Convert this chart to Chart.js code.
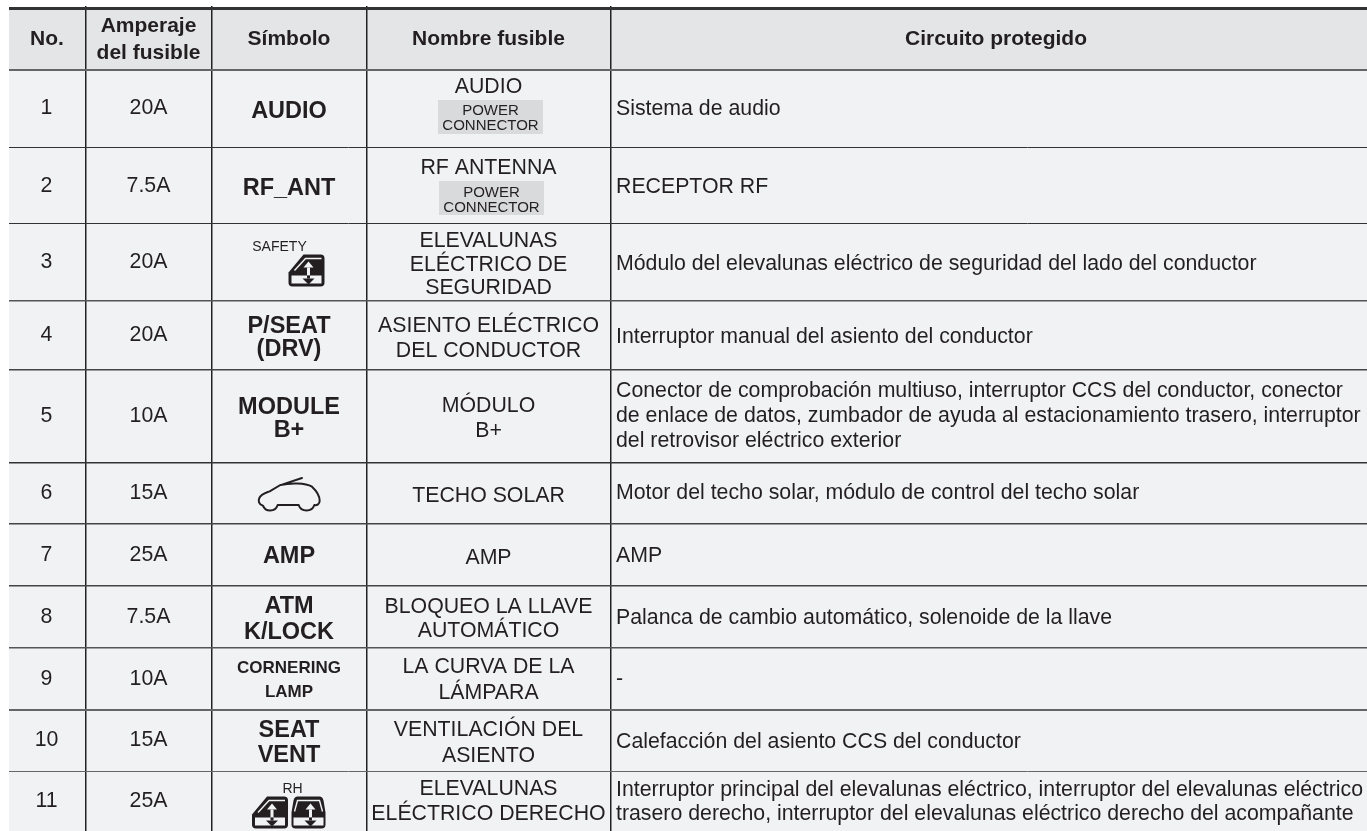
<!DOCTYPE html>
<html>
<head>
<meta charset="utf-8">
<script src="https://cdn.jsdelivr.net/npm/chart.js@4"></script>
<style>
  html, body { margin: 0; padding: 0; background: #fff; }
  canvas { display: block; }
</style>
</head>
<body>
<canvas id="fuse-table" width="1367" height="831"></canvas>
<script>
const headerLabels = [["No."], ["Amperaje", "del fusible"], ["Símbolo"], ["Nombre fusible"], ["Circuito protegido"]];
const fuseNumbers = ["1", "2", "3", "4", "5", "6", "7", "8", "9", "10", "11"];
const fuseAmps = ["20A", "7.5A", "20A", "20A", "10A", "15A", "25A", "7.5A", "10A", "15A", "25A"];
const fuseSymbols = [["AUDIO"], ["RF_ANT"], ["SAFETY"], ["P/SEAT", "(DRV)"], ["MODULE", "B+"], [], ["AMP"], ["ATM", "K/LOCK"], ["CORNERING", "LAMP"], ["SEAT", "VENT"], ["RH"]];
const fuseNames = [
  ["AUDIO"], ["RF ANTENNA"], ["ELEVALUNAS", "ELÉCTRICO DE", "SEGURIDAD"], ["ASIENTO ELÉCTRICO", "DEL CONDUCTOR"],
  ["MÓDULO", "B+"], ["TECHO SOLAR"], ["AMP"], ["BLOQUEO LA LLAVE", "AUTOMÁTICO"], ["LA CURVA DE LA", "LÁMPARA"],
  ["VENTILACIÓN DEL", "ASIENTO"], ["ELEVALUNAS", "ELÉCTRICO DERECHO"],
];
const powerTags = [["POWER", "CONNECTOR"], ["POWER", "CONNECTOR"]];
const fuseCircuits = [
  ["Sistema de audio"], ["RECEPTOR RF"], ["Módulo del elevalunas eléctrico de seguridad del lado del conductor"],
  ["Interruptor manual del asiento del conductor"],
  ["Conector de comprobación multiuso, interruptor CCS del conductor, conector", "de enlace de datos, zumbador de ayuda al estacionamiento trasero, interruptor", "del retrovisor eléctrico exterior"],
  ["Motor del techo solar, módulo de control del techo solar"], ["AMP"],
  ["Palanca de cambio automático, solenoide de la llave"], ["-"], ["Calefacción del asiento CCS del conductor"],
  ["Interruptor principal del elevalunas eléctrico, interruptor del elevalunas eléctrico", "trasero derecho, interruptor del elevalunas eléctrico derecho del acompañante"],
];

// table layout (scale values equal page pixels)
const columnEdges = [86, 212, 367, 611];
const rowEdges = [8, 70, 147, 224, 301, 370, 463, 524, 586, 648, 710, 771];
const rowLineWidths = [3, 2, 1, 1, 1.5, 1.5, 1.5, 1.5, 1.5, 1.5, 2, 1];
const rowLineColors = ["#333", "#666", "#333", "#333", "#555", "#444", "#333", "#444", "#444", "#555", "#666", "#666"];
const columnCenters = [47, 148.5, 289, 488.5];
const circuitLeft = 616;
const headerBaselines = [[45], [32, 59], [45], [45], [45]];
const amountBaselines = [114, 192, 268, 341, 422, 499, 561, 623, 685, 746, 807];
const symbolBaselines = [[118], [195], [251], [333, 356], [414, 437], [], [563], [613, 639], [673, 697], [737, 762], [793]];
const nameBaselines = [[93], [174], [247, 271, 294], [332, 357], [412, 437], [502], [564], [613, 637], [673, 699], [736, 762], [795, 820]];
const tagBaselines = [[115, 130], [197, 212]];
const circuitBaselines = [[114.5], [192.5], [269.5], [342.5], [397, 422, 447], [499], [561.5], [623.5], [685], [747.5], [795.5, 820]];
const iconPoints = [
  { x: 306.5, y: 270.5, icon: "frontWindow" },
  { x: 289, y: 494, icon: "car" },
  { x: 270, y: 812.5, icon: "frontWindow" },
  { x: 308.5, y: 812.5, icon: "rearWindow" },
];

const FONT = '"Liberation Sans", Arial, sans-serif';
const BODY_FONT = "21.3px " + FONT;
const textPoints = [];

function addLines(lines, baselines, x, font, align) {
  lines.forEach((text, i) => textPoints.push({ x, y: baselines[i], text, font, align: align || "center" }));
}

function symbolFont(text) {
  if (text === "SAFETY" || text === "RH") return "14px " + FONT;
  if (text === "CORNERING" || text === "LAMP") return "bold 17px " + FONT;
  return "bold 23.5px " + FONT;
}

headerLabels.forEach((lines, i) => {
  const x = i < 4 ? columnCenters[i] : 996;
  addLines(lines, headerBaselines[i], x, "bold 21px " + FONT);
});
fuseNumbers.forEach((n, i) => {
  addLines([n], [amountBaselines[i]], columnCenters[0] - 0.5, BODY_FONT);
  addLines([fuseAmps[i]], [amountBaselines[i]], columnCenters[1], BODY_FONT);
  fuseSymbols[i].forEach((text, j) => {
    let x = columnCenters[2];
    if (text === "SAFETY") x = 279.5;
    if (text === "RH") x = 292.5;
    addLines([text], [symbolBaselines[i][j]], x, symbolFont(text));
  });
  addLines(fuseNames[i], nameBaselines[i], columnCenters[3], BODY_FONT);
  addLines(fuseCircuits[i], circuitBaselines[i], circuitLeft, BODY_FONT, "left");
});
powerTags.forEach((lines, i) => addLines(lines, tagBaselines[i], columnCenters[3] + 2 + i, "15px " + FONT));

function windowOutline(ctx, rear) {
  ctx.beginPath();
  if (rear) {
    ctx.moveTo(-11, -16);
    ctx.lineTo(11, -16);
    ctx.quadraticCurveTo(14, -16, 15, -12);
    ctx.lineTo(17, 0);
    ctx.lineTo(17, 12);
    ctx.quadraticCurveTo(17, 16, 13, 16);
    ctx.lineTo(-13, 16);
    ctx.quadraticCurveTo(-17, 16, -17, 12);
    ctx.lineTo(-17, 0);
    ctx.lineTo(-15, -12);
    ctx.quadraticCurveTo(-14, -16, -11, -16);
  } else {
    ctx.moveTo(-3, -16);
    ctx.lineTo(14, -16);
    ctx.quadraticCurveTo(18, -16, 18, -12);
    ctx.lineTo(18, 12);
    ctx.quadraticCurveTo(18, 16, 14, 16);
    ctx.lineTo(-14, 16);
    ctx.quadraticCurveTo(-18, 16, -18, 12);
    ctx.lineTo(-18, 2);
    ctx.closePath();
  }
  ctx.fill();
}

function drawWindow(ctx, rear) {
  ctx.fillStyle = "#231f20";
  windowOutline(ctx, rear);
  ctx.fillStyle = "#f1f2f4";
  ctx.fillRect(-15, 5, 30, 8);
  ctx.strokeStyle = "#f1f2f4";
  ctx.lineWidth = 1.4;
  ctx.beginPath();
  if (rear) {
    ctx.moveTo(-14, -1);
    ctx.lineTo(-11, -12);
    ctx.lineTo(11, -12);
    ctx.lineTo(14, -1);
  } else {
    ctx.moveTo(-12, 0);
    ctx.lineTo(-1, -12);
    ctx.lineTo(15, -12);
  }
  ctx.stroke();
  // up arrow white, down arrow dark
  ctx.beginPath();
  ctx.moveTo(2, -9);
  ctx.lineTo(7, -3);
  ctx.lineTo(-3, -3);
  ctx.closePath();
  ctx.fill();
  ctx.fillRect(0.5, -3, 3, 8);
  ctx.fillStyle = "#231f20";
  ctx.fillRect(0.5, 5, 3, 3);
  ctx.beginPath();
  ctx.moveTo(-4, 8);
  ctx.lineTo(8, 8);
  ctx.lineTo(2, 14);
  ctx.closePath();
  ctx.fill();
}

function drawCar(ctx) {
  ctx.strokeStyle = "#231f20";
  ctx.lineWidth = 6;
  ctx.lineJoin = "round";
  ctx.lineCap = "round";
  ctx.scale(1 / 3, 1 / 3);
  ctx.translate(-296, -100);
  ctx.beginPath();
  ctx.moveTo(218, 135);
  ctx.bezierCurveTo(205, 132, 203, 120, 207, 112);
  ctx.bezierCurveTo(212, 100, 225, 97, 238, 92);
  ctx.lineTo(270, 73);
  ctx.bezierCurveTo(300, 66, 345, 66, 365, 78);
  ctx.bezierCurveTo(380, 92, 388, 108, 388, 120);
  ctx.bezierCurveTo(388, 130, 380, 135, 372, 133);
  ctx.bezierCurveTo(365, 155, 332, 155, 325, 133);
  ctx.lineTo(262, 133);
  ctx.bezierCurveTo(255, 155, 225, 155, 218, 135);
  ctx.moveTo(275, 72);
  ctx.lineTo(335, 52);
  ctx.stroke();
}

const tablePlugin = {
  id: "fuseTable",
  beforeDraw(chart) {
    const { ctx, scales } = chart;
    const { x, y } = scales;
    const fill = (x0, x1, y0, y1, color) => {
      ctx.fillStyle = color;
      ctx.fillRect(x.getPixelForValue(x0), y.getPixelForValue(y0), x.getPixelForValue(x1) - x.getPixelForValue(x0), y.getPixelForValue(y1) - y.getPixelForValue(y0));
    };
    ctx.save();
    fill(9, 1367, rowEdges[0], rowEdges[1], "#e4e5e7");
    fill(9, 1367, rowEdges[1], 831, "#f1f2f4");
    fill(438, 543, 100, 134, "#d9dadc");
    fill(439, 544, 181, 215, "#d9dadc");
    ctx.restore();
  },
  afterDatasetsDraw(chart) {
    const { ctx } = chart;
    ctx.save();
    ctx.fillStyle = "#231f20";
    ctx.textBaseline = "alphabetic";
    chart.getDatasetMeta(0).data.forEach((el, i) => {
      const p = textPoints[i];
      ctx.font = p.font;
      ctx.textAlign = p.align;
      ctx.fillText(p.text, el.x, el.y);
    });
    ctx.restore();
    chart.getDatasetMeta(1).data.forEach((el, i) => {
      ctx.save();
      ctx.translate(el.x, el.y);
      const icon = iconPoints[i].icon;
      if (icon === "car") drawCar(ctx);
      else drawWindow(ctx, icon === "rearWindow");
      ctx.restore();
    });
  },
};

new Chart(document.querySelector("#fuse-table"), {
  type: "scatter",
  data: {
    datasets: [
      { data: textPoints, pointRadius: 0 },
      { data: iconPoints, pointRadius: 0 },
    ],
  },
  options: {
    responsive: false,
    animation: false,
    layout: { padding: { left: 9, top: 6 } },
    plugins: { legend: { display: false }, tooltip: { enabled: false } },
    scales: {
      x: {
        type: "linear",
        min: 9,
        max: 1367,
        afterBuildTicks: (axis) => { axis.ticks = columnEdges.map((value) => ({ value })); },
        ticks: { display: false },
        border: { display: false },
        grid: { drawTicks: false, color: "#222", lineWidth: 1.5 },
      },
      y: {
        type: "linear",
        reverse: true,
        min: 6,
        max: 831,
        afterBuildTicks: (axis) => { axis.ticks = rowEdges.map((value) => ({ value })); },
        ticks: { display: false },
        border: { display: false },
        grid: {
          drawTicks: false,
          color: (c) => rowLineColors[rowEdges.indexOf(c.tick.value)],
          lineWidth: (c) => rowLineWidths[rowEdges.indexOf(c.tick.value)],
        },
      },
    },
  },
  plugins: [tablePlugin],
});
</script>
</body>
</html>
